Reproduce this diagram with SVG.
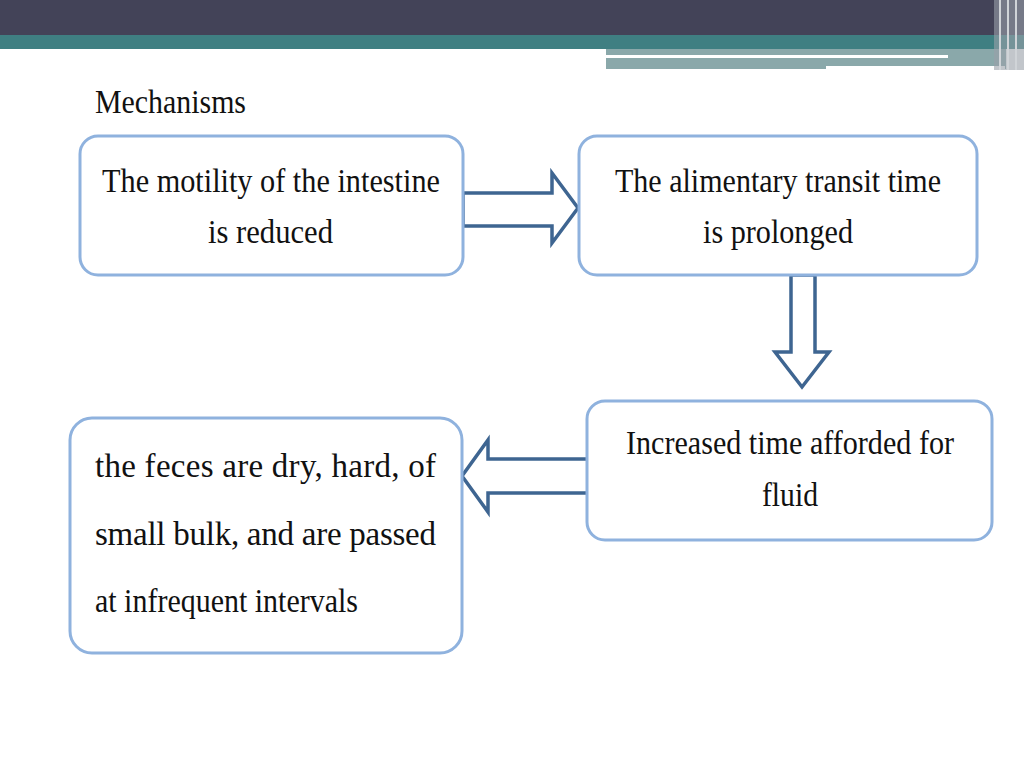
<svg xmlns="http://www.w3.org/2000/svg" width="1024" height="768" viewBox="0 0 1024 768">
<style>
.box{fill:#fff;stroke:#8fb2de;stroke-width:3}
.arr{fill:#fff;stroke:#3e6591;stroke-width:3.5;stroke-linejoin:miter}
text{font-family:"Liberation Serif",serif;font-size:33px;fill:#111}
</style>
<rect width="1024" height="768" fill="#fff"/>
<g id="header">
<rect x="0" y="0" width="1024" height="35" fill="#434358"/>
<rect x="0" y="35" width="1024" height="14" fill="#3f7f82"/>
<rect x="606" y="49" width="400" height="20" fill="#8aa8aa"/>
<rect x="606" y="55" width="342" height="3" fill="#fff"/>
<rect x="826" y="66" width="179" height="3" fill="#fff"/>
<rect x="994" y="0" width="30" height="70" fill="#9aa0a8" opacity="0.6"/>
<line x1="1000" y1="0" x2="1000" y2="70" stroke="#d0d4d8" stroke-width="2"/>
<line x1="1008" y1="0" x2="1008" y2="70" stroke="#d0d4d8" stroke-width="2"/>
<line x1="1016" y1="0" x2="1016" y2="70" stroke="#d0d4d8" stroke-width="2"/>
</g>
<text x="95" y="113" textLength="151" lengthAdjust="spacingAndGlyphs">Mechanisms</text>
<g id="connectors">
<polygon class="arr" points="463,193 552,193 552,173 578,208 552,243 552,226 463,226"/>
<polygon class="arr" points="791,275 815,275 815,352 829,352 802,387 775,352 791,352"/>
<polygon class="arr" points="588,459 488,459 488,440 462,476 488,512 488,493 588,493"/>
</g>
<g id="n1">
<rect class="box" x="80" y="136" width="383" height="139" rx="18"/>
<text x="102" y="192" textLength="338" lengthAdjust="spacingAndGlyphs">The motility of the intestine</text>
<text x="208" y="243" textLength="125" lengthAdjust="spacingAndGlyphs">is reduced</text>
</g>
<g id="n2">
<rect class="box" x="579" y="136" width="398" height="139" rx="18"/>
<text x="615" y="192" textLength="326" lengthAdjust="spacingAndGlyphs">The alimentary transit time</text>
<text x="703" y="243" textLength="150" lengthAdjust="spacingAndGlyphs">is prolonged</text>
</g>
<g id="n3">
<rect class="box" x="587" y="401" width="405" height="139" rx="18"/>
<text x="626" y="454" textLength="328" lengthAdjust="spacingAndGlyphs">Increased time afforded for</text>
<text x="762" y="506" textLength="56" lengthAdjust="spacingAndGlyphs">fluid</text>
</g>
<g id="n4">
<rect class="box" x="70" y="418" width="392" height="235" rx="22"/>
<text x="95" y="477" textLength="341" lengthAdjust="spacing">the feces are dry, hard, of</text>
<text x="95" y="545" textLength="341" lengthAdjust="spacing">small bulk, and are passed</text>
<text x="95" y="612" textLength="263" lengthAdjust="spacingAndGlyphs">at infrequent intervals</text>
</g>
</svg>
